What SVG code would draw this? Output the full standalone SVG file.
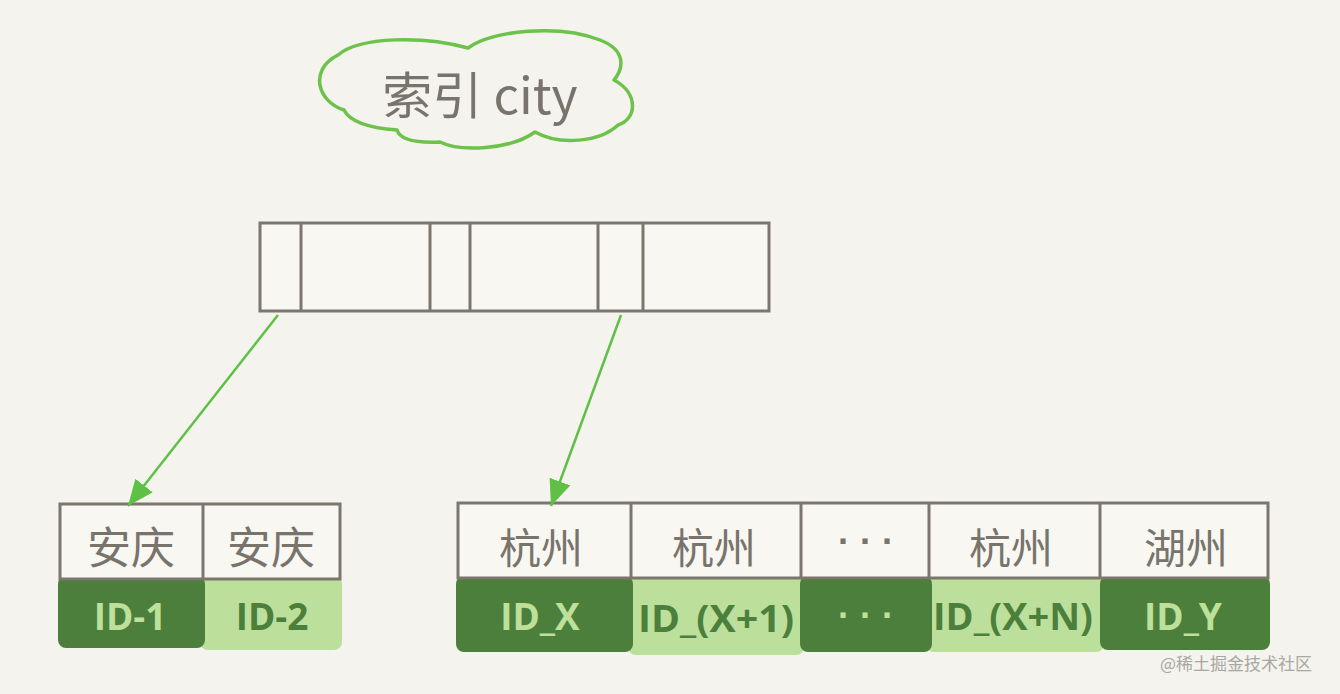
<svg xmlns="http://www.w3.org/2000/svg" width="1340" height="694" viewBox="0 0 1340 694">
<style>
.box{fill:#f8f7f2;stroke:#7b776f;stroke-width:3}
.div{stroke:#7b776f;stroke-width:3}
.cn{font-family:"Noto Sans CJK SC","Noto Sans",sans-serif;fill:#78746c;text-anchor:middle}
.dots{font-family:"Liberation Sans",sans-serif;font-weight:700;text-anchor:middle;font-size:36px}
.id{font-family:"Open Sans","Liberation Sans",sans-serif;font-weight:700;text-anchor:middle;font-size:37px}
.dark{fill:#4c7f3b}
.light{fill:#bcdf9b}
.tdark{fill:#4c7f3b}
.tlight{fill:#bde09a}
.conn{stroke:#5fc046;stroke-width:2.5;fill:none}
</style>
<defs>
<marker id="ah" markerUnits="userSpaceOnUse" markerWidth="30" markerHeight="24" refX="26" refY="11" orient="auto">
<path d="M0,0 L26,11 L0,22 Z" fill="#5fc046"/>
</marker>
</defs>
<rect width="1340" height="694" fill="#f4f3ed"/>

<g id="title">
<path d="M344 110 C318 102,308 70,338 55 C360 36,425 36,468 48 C492 30,560 24,600 40 C626 50,624 68,614 80 C640 94,636 120,618 125 C600 142,560 146,535 132 C510 150,460 152,440 142 C418 143,400 140,397 130 C370 128,350 122,344 110 Z" fill="none" stroke="#6cc24a" stroke-width="3.5" stroke-linejoin="round"/>
<text class="cn" x="480" y="114" font-size="50">索引 city</text>
</g>

<g id="root">
<rect class="box" x="260" y="223" width="509" height="88"/>
<line class="div" x1="301" y1="223" x2="301" y2="311"/>
<line class="div" x1="430" y1="223" x2="430" y2="311"/>
<line class="div" x1="470" y1="223" x2="470" y2="311"/>
<line class="div" x1="598" y1="223" x2="598" y2="311"/>
<line class="div" x1="643" y1="223" x2="643" y2="311"/>
</g>

<g id="leaf-anqing">
<rect class="light" x="200" y="576" width="142" height="74" rx="8"/>
<rect class="dark" x="58" y="576" width="147" height="72" rx="8"/>
<rect class="box" x="60" y="504" width="280" height="75"/>
<line class="div" x1="203" y1="504" x2="203" y2="579"/>
<text class="cn" x="131" y="564" font-size="44">安庆</text>
<text class="cn" x="271" y="564" font-size="44">安庆</text>
<text class="id tlight" x="130" y="630">ID-1</text>
<text class="id tdark" x="272" y="630">ID-2</text>
</g>

<g id="leaf-hangzhou">
<rect class="light" x="628" y="576" width="176" height="79" rx="8"/>
<rect class="light" x="926" y="576" width="178" height="76" rx="8"/>
<rect class="dark" x="456" y="576" width="177" height="76" rx="8"/>
<rect class="dark" x="800" y="576" width="132" height="76" rx="8"/>
<rect class="dark" x="1100" y="576" width="170" height="74" rx="8"/>
<rect class="box" x="458" y="503" width="810" height="75"/>
<line class="div" x1="631" y1="503" x2="631" y2="578"/>
<line class="div" x1="801" y1="503" x2="801" y2="578"/>
<line class="div" x1="929" y1="503" x2="929" y2="578"/>
<line class="div" x1="1100" y1="503" x2="1100" y2="578"/>
<text class="cn" x="541" y="564" font-size="42">杭州</text>
<text class="cn" x="714" y="564" font-size="42">杭州</text>
<text class="dots" x="866" y="554" fill="#78746c">· · ·</text>
<text class="cn" x="1011" y="564" font-size="42">杭州</text>
<text class="cn" x="1186" y="564" font-size="42">湖州</text>
<text class="id tlight" x="540" y="630">ID_X</text>
<text class="id tdark" x="716" y="632" textLength="156" lengthAdjust="spacingAndGlyphs">ID_(X+1)</text>
<text class="dots tlight" x="866" y="628">· · ·</text>
<text class="id tdark" x="1013" y="630" textLength="160" lengthAdjust="spacingAndGlyphs">ID_(X+N)</text>
<text class="id tlight" x="1183" y="630">ID_Y</text>
</g>

<g id="connectors">
<line class="conn" x1="278" y1="315" x2="128" y2="506" marker-end="url(#ah)"/>
<line class="conn" x1="621" y1="315" x2="551" y2="506" marker-end="url(#ah)"/>
</g>

<text x="1160" y="670" font-family="Noto Sans CJK SC,sans-serif" font-size="17" fill="#a9a7a1">@稀土掘金技术社区</text>
</svg>
